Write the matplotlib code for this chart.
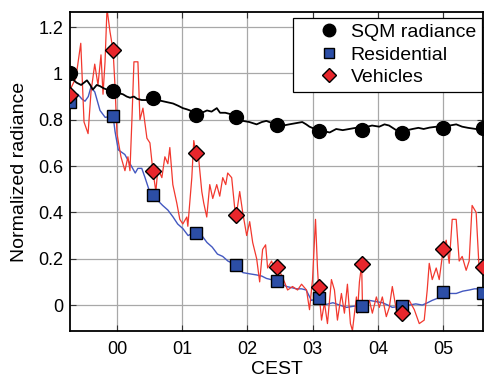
import numpy as np
import matplotlib
matplotlib.use("Agg")
import matplotlib.pyplot as plt
from matplotlib.lines import Line2D

# hours relative to midnight (CEST)
mark_t = [-0.72, -0.06, 0.55, 1.21, 1.83, 2.46, 3.09, 3.75, 4.37, 5.00, 5.61]
sqm_mark = [1.00, 0.925, 0.895, 0.82, 0.813, 0.778, 0.753, 0.757, 0.744, 0.766, 0.766]
res_mark = [0.877, 0.817, 0.473, 0.31, 0.172, 0.103, 0.030, -0.004, -0.004, 0.056, 0.052]
veh_mark = [0.907, 1.10, 0.58, 0.658, 0.39, 0.163, 0.077, 0.176, -0.034, 0.24, 0.163]

sqm_t = [-0.72, -0.66, -0.62, -0.55, -0.46, -0.41, -0.37, -0.31, -0.26, -0.20, -0.15, -0.06,
         0.02, 0.09, 0.15, 0.20, 0.26, 0.31, 0.38, 0.46, 0.55, 0.62, 0.70, 0.78, 0.86,
         0.94, 1.01, 1.07, 1.12, 1.21, 1.30, 1.38, 1.45, 1.53, 1.58, 1.66, 1.73, 1.83,
         1.93, 2.03, 2.14, 2.22, 2.29, 2.38, 2.46, 2.55, 2.64, 2.74, 2.84, 2.90, 2.95,
         3.09, 3.18, 3.26, 3.36, 3.46, 3.56, 3.66, 3.75, 3.84, 3.91, 4.02, 4.10, 4.17,
         4.28, 4.37, 4.45, 4.53, 4.62, 4.70, 4.79, 4.90, 5.00, 5.10, 5.20, 5.29, 5.38,
         5.50, 5.61]
sqm_v = [1.00, 0.97, 0.96, 0.95, 0.97, 0.95, 0.93, 0.95, 0.945, 0.935, 0.93, 0.925,
         0.915, 0.91, 0.90, 0.895, 0.90, 0.89, 0.885, 0.885, 0.895, 0.885, 0.88, 0.875, 0.87,
         0.86, 0.85, 0.845, 0.84, 0.82, 0.83, 0.84, 0.835, 0.85, 0.83, 0.83, 0.825, 0.81,
         0.795, 0.79, 0.78, 0.79, 0.795, 0.785, 0.778, 0.775, 0.78, 0.785, 0.79, 0.78, 0.77,
         0.753, 0.75, 0.745, 0.76, 0.755, 0.76, 0.765, 0.757, 0.77, 0.775, 0.77, 0.78, 0.775,
         0.755, 0.745, 0.755, 0.76, 0.765, 0.76, 0.766, 0.77, 0.77, 0.775, 0.78, 0.77, 0.765,
         0.76, 0.766]

res_t = [-0.72, -0.66, -0.60, -0.54, -0.49, -0.44, -0.40, -0.34, -0.30, -0.26, -0.18, -0.06,
         -0.03, 0.02, 0.07, 0.12, 0.20, 0.28, 0.32, 0.38, 0.43, 0.50, 0.55, 0.63, 0.70,
         0.78, 0.86, 0.93, 1.01, 1.09, 1.16, 1.21, 1.30, 1.38, 1.46, 1.54, 1.62, 1.70,
         1.83, 1.93, 2.03, 2.14, 2.22, 2.29, 2.46, 2.53, 2.60, 2.68, 2.75, 2.83, 2.90,
         2.98, 3.09, 3.16, 3.24, 3.31, 3.41, 3.52, 3.63, 3.75, 3.87, 3.97, 4.07, 4.15,
         4.22, 4.37, 4.48, 4.58, 4.68, 4.76, 4.83, 4.92, 5.00, 5.10, 5.20, 5.30, 5.40,
         5.48, 5.55, 5.61]
res_v = [0.877, 0.90, 0.91, 0.89, 0.88, 0.90, 0.94, 0.92, 0.88, 0.84, 0.81, 0.817,
         0.75, 0.67, 0.66, 0.65, 0.61, 0.57, 0.59, 0.59, 0.55, 0.49, 0.473, 0.45, 0.43,
         0.41, 0.38, 0.35, 0.33, 0.30, 0.31, 0.31, 0.30, 0.27, 0.25, 0.22, 0.21, 0.19,
         0.172, 0.14, 0.135, 0.13, 0.125, 0.115, 0.103, 0.09, 0.08, 0.075, 0.07, 0.07, 0.065,
         0.02, 0.03, 0.0, 0.005, 0.01, 0.0, -0.01, -0.005, -0.004, 0.02, 0.015, 0.01, 0.0,
         -0.01, -0.004, 0.0, 0.005, 0.0, 0.01, 0.02, 0.03, 0.056, 0.05, 0.05, 0.06, 0.065,
         0.07, 0.07, 0.052]

veh_t = [-0.72, -0.70, -0.63, -0.555, -0.505, -0.443, -0.398, -0.341, -0.291, -0.245,
         -0.214, -0.183, -0.153, -0.107, -0.06, -0.031, 0.0, 0.061, 0.122, 0.168, 0.199,
         0.229, 0.260, 0.321, 0.352, 0.398, 0.459, 0.505, 0.55, 0.596, 0.627, 0.688, 0.734,
         0.780, 0.810, 0.856, 0.917, 0.963, 1.009, 1.070, 1.086, 1.147, 1.177, 1.21, 1.239,
         1.300, 1.330, 1.376, 1.422, 1.468, 1.529, 1.575, 1.621, 1.667, 1.697, 1.758, 1.804,
         1.83, 1.881, 1.927, 1.988, 2.034, 2.080, 2.141, 2.187, 2.232, 2.278, 2.309, 2.370,
         2.416, 2.46, 2.538, 2.615, 2.691, 2.768, 2.829, 2.905, 2.951, 2.997, 3.043, 3.073,
         3.09, 3.135, 3.180, 3.226, 3.287, 3.333, 3.379, 3.440, 3.486, 3.532, 3.578, 3.609,
         3.670, 3.685, 3.716, 3.75, 3.761, 3.823, 3.869, 3.914, 3.976, 4.021, 4.067, 4.128,
         4.174, 4.220, 4.281, 4.37, 4.404, 4.480, 4.557, 4.633, 4.709, 4.755, 4.786, 4.832,
         4.893, 4.939, 5.00, 5.046, 5.092, 5.138, 5.199, 5.245, 5.291, 5.352, 5.398, 5.443,
         5.505, 5.550, 5.61]
veh_v = [0.907, 0.94, 0.98, 1.13, 0.79, 0.74, 0.92, 1.04, 0.95, 1.08,
         0.91, 1.05, 1.28, 1.18, 1.10, 0.95, 0.74, 0.64, 0.58, 0.64, 0.58,
         0.80, 1.05, 1.05, 0.80, 0.85, 0.72, 0.70, 0.58, 0.49, 0.59, 0.55, 0.64,
         0.61, 0.68, 0.52, 0.44, 0.37, 0.35, 0.38, 0.34, 0.55, 0.71, 0.658, 0.67,
         0.49, 0.44, 0.38, 0.52, 0.46, 0.52, 0.47, 0.55, 0.52, 0.57, 0.55, 0.42,
         0.39, 0.49, 0.40, 0.30, 0.36, 0.27, 0.20, 0.10, 0.24, 0.26, 0.16, 0.19,
         0.15, 0.163, 0.12, 0.065, 0.08, 0.065, 0.09, 0.065, -0.02, 0.11, 0.37, 0.16,
         0.077, -0.065, 0.01, -0.08, 0.11, 0.065, -0.065, 0.05, -0.035, 0.09, -0.08, -0.11,
         0.035, -0.035, 0.10, 0.176, 0.02, -0.01, 0.02, -0.035, 0.035, -0.01, 0.035, -0.05,
         -0.01, 0.08, -0.02, -0.034, 0.01, 0.02, -0.02, -0.08, -0.065, 0.065, 0.18, 0.11,
         0.16, 0.11, 0.24, 0.28, 0.18, 0.37, 0.37, 0.19, 0.21, 0.15, 0.19, 0.43,
         0.40, 0.16, 0.163]

xticks = [0, 1, 2, 3, 4, 5]
xtick_labels = ["00", "01", "02", "03", "04", "05"]
yticks = [0, 0.2, 0.4, 0.6, 0.8, 1.0, 1.2]
ytick_labels = ["0", "0.2", "0.4", "0.6", "0.8", "1", "1.2"]

plt.rcParams["font.family"] = ["Liberation Sans", "DejaVu Sans"]
fig = plt.figure(figsize=(4.84, 3.77), dpi=100)
ax = fig.add_axes([70 / 484, 46 / 377, 413 / 484, 319 / 377])

blue_line = "#4358c0"
red_line = "#f2382e"
blue_mk = "#2c4ea6"
red_mk = "#e8262c"

ax.plot(sqm_t, sqm_v, color="black", lw=1.3, zorder=3)
ax.plot(res_t, res_v, color=blue_line, lw=1.0, zorder=2)
ax.plot(veh_t, veh_v, color=red_line, lw=0.9, zorder=2)

ax.plot(mark_t, sqm_mark, "o", color="black", ms=10, zorder=5)
ax.plot(mark_t, res_mark, "s", mfc=blue_mk, mec="black", mew=1.0, ms=8.5, zorder=5)
ax.plot(mark_t, veh_mark, "D", mfc=red_mk, mec="black", mew=1.0, ms=8, zorder=6)

ax.set_xlim(-0.72, 5.61)
ax.set_ylim(-0.112, 1.265)
ax.set_xticks(xticks)
ax.set_xticklabels(xtick_labels)
ax.set_yticks(yticks)
ax.set_yticklabels(ytick_labels)
ax.tick_params(direction="in", top=True, right=True, labelsize=13, length=4,
               width=0.8, color="#333333")
ax.tick_params(axis="x", pad=7)
ax.tick_params(axis="y", pad=5)
ax.grid(True, color="#a8a8a8", lw=0.9)
ax.set_axisbelow(True)
for s in ax.spines.values():
    s.set_linewidth(1.3)

ax.set_xlabel("CEST", fontsize=14, labelpad=2)
ax.set_ylabel("Normalized radiance", fontsize=14, labelpad=7)

handles = [
    Line2D([], [], ls="none", marker="o", color="black", ms=9),
    Line2D([], [], ls="none", marker="s", mfc=blue_mk, mec="black", ms=7),
    Line2D([], [], ls="none", marker="D", mfc=red_mk, mec="black", ms=7.5),
]
leg = ax.legend(handles, ["SQM radiance", "Residential", "Vehicles"],
                loc="upper right", bbox_to_anchor=(0.997, 0.982), fontsize=14,
                fancybox=False, edgecolor="black", framealpha=1,
                labelspacing=0.25, handletextpad=-0.45, borderpad=0.3,
                handlelength=3.1, borderaxespad=0)
leg.get_frame().set_linewidth(0.9)

fig.savefig("out.png", dpi=100, facecolor="white")
